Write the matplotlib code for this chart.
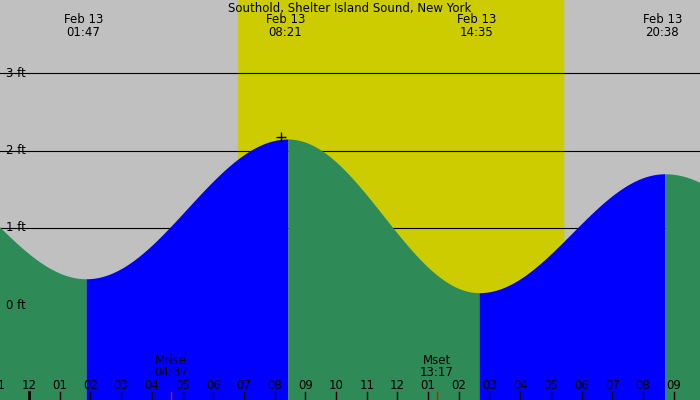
import numpy as np
import matplotlib
matplotlib.use("Agg")
import matplotlib.pyplot as plt

title = "Southold, Shelter Island Sound, New York"
# tide extremes (hours after midnight Feb 13, height ft); first/last are outside view
ext_t = [-4.4, 1.78, 8.35, 14.58, 20.63, 26.9]
ext_h = [1.9, 0.34, 2.15, 0.16, 1.70, 0.30]
label_idx = [1, 2, 3, 4]
label_txt = ["01:47", "08:21", "14:35", "20:38"]
sunrise, sunset = 6.81, 17.39
moon_t = [4.62, 13.28]
moon_lbl = ["Mrise\n04:37", "Mset\n13:17"]
hour_lbls = ["11", "12", "01", "02", "03", "04", "05", "06", "07", "08", "09", "10", "11", "12",
             "01", "02", "03", "04", "05", "06", "07", "08", "09"]
yticks = [0, 1, 2, 3]

x0, x1 = -0.945, 21.857
y0, y1 = -1.23, 3.95
shift = 0.08

fig = plt.figure(figsize=(7, 4), dpi=100)
ax = fig.add_axes([0, 0, 1, 1])
ax.set_xlim(x0, x1); ax.set_ylim(y0, y1); ax.axis("off")
ax.axvspan(x0, x1, color="#c0c0c0", zorder=0)
ax.axvspan(sunrise, sunset, color="#cccc00", zorder=0.5)
for y in yticks:
    if y > 0:
        ax.axhline(y, color="black", lw=0.8, zorder=1)
    ax.text(0.008, (y - y0) / (y1 - y0), f"{y} ft", transform=ax.transAxes,
            fontsize=8.5, va="center", ha="left", zorder=5)

for i in range(len(ext_t) - 1):
    ta, tb = ext_t[i] + shift, ext_t[i + 1] + shift
    ha, hb = ext_h[i], ext_h[i + 1]
    t = np.linspace(ta, tb, 200)
    p = (t - ta) / (tb - ta)
    h = hb + (ha - hb) * (1 + np.cos(np.pi * p)) / 2
    col = "#0000ff" if hb > ha else "#2e8b57"
    ax.fill_between(t, y0, h, color=col, lw=0, zorder=2)

for i, lbl in zip(label_idx, label_txt):
    ax.text(ext_t[i], 0.935, "Feb 13\n" + lbl, transform=ax.get_xaxis_transform(),
            ha="center", va="center", fontsize=8.5, linespacing=0.95, zorder=5)
ax.plot(ext_t[2] - 0.15, ext_h[2] + 0.02, marker="+", color="black", ms=7, zorder=5)
ax.text(0.5, 0.995, title, transform=ax.transAxes, ha="center", va="top", fontsize=8.5, zorder=5)

for k, lbl in enumerate(hour_lbls):
    hx = k - 1
    ax.text(hx, 0.037, lbl, transform=ax.get_xaxis_transform(), ha="center",
            va="center", fontsize=8.5, zorder=5)
    ax.plot([hx, hx], [0, 0.02], transform=ax.get_xaxis_transform(), color="black",
            lw=2 if lbl == "12" and k == 1 else 1, zorder=5)
for mt, ml in zip(moon_t, moon_lbl):
    ax.text(mt, 0.085, ml, transform=ax.get_xaxis_transform(), ha="center",
            va="center", fontsize=8.5, linespacing=0.9, zorder=5)
    ax.plot([mt, mt], [0, 0.02], transform=ax.get_xaxis_transform(), color="red", lw=1, zorder=5)

fig.savefig("out.png", dpi=100)
